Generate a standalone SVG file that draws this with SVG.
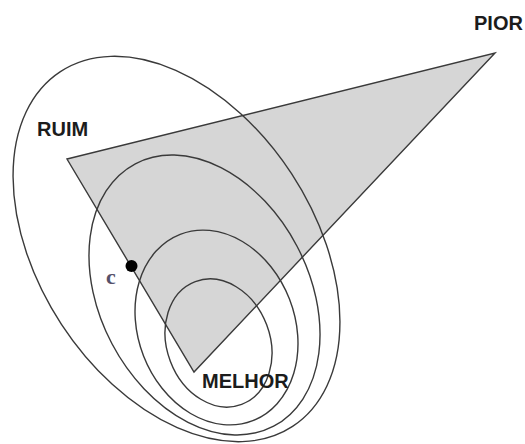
<svg xmlns="http://www.w3.org/2000/svg" width="525" height="444" viewBox="0 0 525 444">
<style>
.lvl{fill:none;stroke:#3a3a3a;stroke-width:1.4}
.tri{fill:#d6d6d6;stroke:#3a3a3a;stroke-width:1.4;stroke-linejoin:miter}
.lab{font-family:"Liberation Sans",Arial,sans-serif;font-weight:bold;font-size:20px;fill:#1c1c1c}
</style>
<rect width="525" height="444" fill="#ffffff"/>
<g id="region">
<polygon class="tri" points="67,159 495,53 194,372"/>
</g>
<g id="contours">
<ellipse class="lvl" cx="176.5" cy="249" rx="212" ry="137.5" transform="rotate(56.8 176.5 249)"/>
<ellipse class="lvl" cx="204.5" cy="295" rx="148.3" ry="104.6" transform="rotate(62.2 204.5 295)"/>
<ellipse class="lvl" cx="216.5" cy="327.5" rx="100" ry="78.3" transform="rotate(68.7 216.5 327.5)"/>
<ellipse class="lvl" cx="218.5" cy="343" rx="65.6" ry="51.5" transform="rotate(69.3 218.5 343)"/>
</g>
<g id="point-c">
<circle cx="131.5" cy="266" r="6" fill="#000"/>
<text x="106" y="284" font-family="'Liberation Serif',serif" font-weight="bold" font-size="22" fill="#55516a">c</text>
</g>
<g id="label-pior"><text class="lab" x="474" y="30">PIOR</text></g>
<g id="label-ruim"><text class="lab" x="37" y="136">RUIM</text></g>
<g id="label-melhor"><text class="lab" x="202" y="388">MELHOR</text></g>
</svg>
